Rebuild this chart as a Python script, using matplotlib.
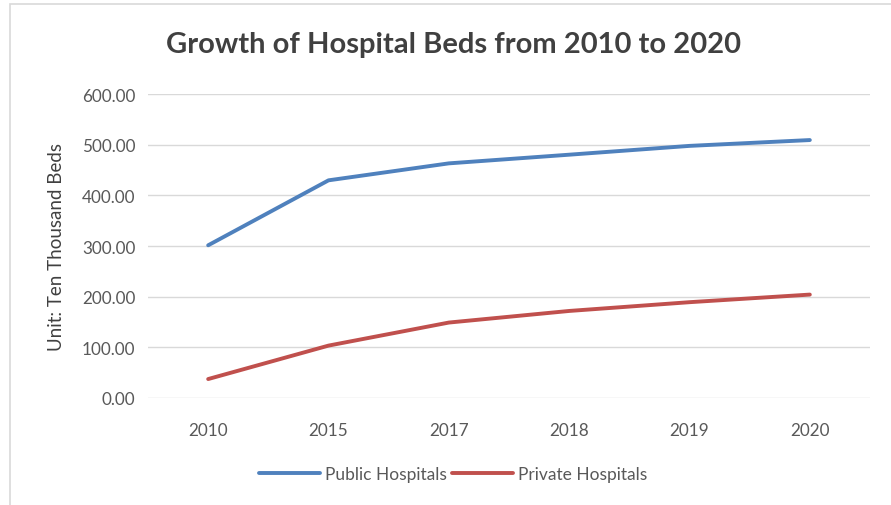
import matplotlib
matplotlib.use("Agg")
import matplotlib.pyplot as plt
from matplotlib.patches import Rectangle

years = ["2010", "2015", "2017", "2018", "2019", "2020"]
public_beds = [301.4, 429.6, 463.1, 480.2, 497.6, 509.1]
private_beds = [37.4, 103.4, 148.9, 171.8, 189.1, 204.1]
yticks = [0, 100, 200, 300, 400, 500, 600]

plt.rcParams["font.family"] = ["Lato", "DejaVu Sans"]

fig = plt.figure(figsize=(8.91, 5.06), dpi=100)
# chart frame (only top/left edges visible)
fig.add_artist(Rectangle((10/891, -0.1), 1.2, 1 - 5/506 + 0.1, transform=fig.transFigure,
                         fill=False, edgecolor="#d9d9d9", linewidth=1.2))

ax = fig.add_axes([148/891, 1 - 399/506, 722/891, 304/506])
x = range(len(years))
ax.plot(x, public_beds, color="#4F81BD", linewidth=2.8, label="Public Hospitals", solid_capstyle="round")
ax.plot(x, private_beds, color="#C0504D", linewidth=2.8, label="Private Hospitals", solid_capstyle="round")

ax.set_xlim(-0.5, len(years) - 0.5)
ax.set_ylim(0, 600)
ax.set_yticks(yticks)
ax.set_yticklabels([f"{v:.2f}" for v in yticks])
ax.set_xticks(list(x))
ax.set_xticklabels(years)
ax.tick_params(axis="both", length=0, labelsize=12.3, colors="#595959")
ax.tick_params(axis="y", pad=9)
ax.tick_params(axis="x", pad=17)
ax.grid(axis="y", color="#d9d9d9", linewidth=1)
ax.set_axisbelow(True)
for s in ax.spines.values():
    s.set_visible(False)

ax.set_ylabel("Unit: Ten Thousand Beds", fontsize=13.5, color="#404040", labelpad=12)

fig.text(453/891, 1 - 45/506, "Growth of Hospital Beds from 2010 to 2020", ha="center", va="center",
         fontsize=21, fontweight="bold", color="#404040")

leg = fig.legend(loc="center", bbox_to_anchor=(453/891, 1 - 475/506), ncol=2, frameon=False,
                 fontsize=12.5, handlelength=3.5, columnspacing=0.3, handletextpad=0.3)
for t in leg.get_texts():
    t.set_color("#595959")

fig.savefig("out.png", dpi=100)
